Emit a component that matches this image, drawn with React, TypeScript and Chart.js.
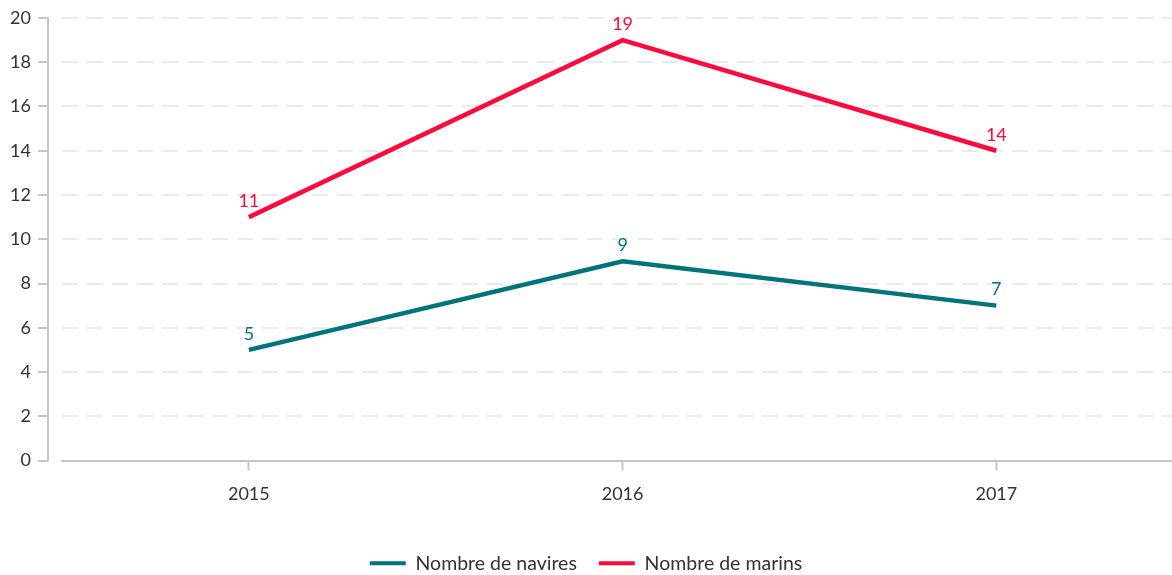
import React, { useEffect, useRef } from "react";
import { Chart, registerables } from "chart.js";

Chart.register(...registerables);

const years = [2015, 2016, 2017];
const navires = [5, 9, 7];
const marins = [11, 19, 14];
const seriesLabels = ["Nombre de navires", "Nombre de marins"];
const seriesColors = ["#00737c", "#ff0a3c"];

const FONT = "Lato, 'Open Sans', sans-serif";
const AXIS = "#c6c6c6";

const yAxisPlugin = {
  id: "yAxisLine",
  afterDraw(chart: any) {
    const { ctx, chartArea, scales } = chart;
    const ys = scales.y;
    const x = chartArea.left - 14;
    ctx.save();
    ctx.strokeStyle = AXIS;
    ctx.lineWidth = 2;
    ctx.beginPath();
    ctx.moveTo(x, ys.getPixelForValue(ys.max) - 1);
    ctx.lineTo(x, ys.getPixelForValue(ys.min) + 1);
    ctx.stroke();
    ys.ticks.forEach((t: any) => {
      const y = Math.round(ys.getPixelForValue(t.value));
      ctx.beginPath();
      ctx.moveTo(x - 10, y);
      ctx.lineTo(x, y);
      ctx.stroke();
    });
    ctx.restore();
  },
};

const labelPlugin = {
  id: "pointLabels",
  afterDatasetsDraw(chart: any) {
    const { ctx } = chart;
    ctx.save();
    ctx.font = `18px ${FONT}`;
    ctx.textAlign = "center";
    ctx.textBaseline = "middle";
    chart.data.datasets.forEach((ds: any, i: number) => {
      const meta = chart.getDatasetMeta(i);
      ctx.fillStyle = ds.borderColor;
      meta.data.forEach((pt: any, j: number) => {
        ctx.fillText(String(ds.data[j].y), pt.x, pt.y - 16);
      });
    });
    ctx.restore();
  },
};

export default function App() {
  const ref = useRef<HTMLCanvasElement | null>(null);
  useEffect(() => {
    document.body.style.margin = "0";
    const chart = new Chart(ref.current as HTMLCanvasElement, {
      type: "line",
      data: {
        datasets: [
          {
            label: seriesLabels[0],
            data: years.map((x, i) => ({ x, y: navires[i] })),
            borderColor: seriesColors[0],
            backgroundColor: seriesColors[0],
            borderWidth: 4.5,
            pointRadius: 0,
            tension: 0,
          },
          {
            label: seriesLabels[1],
            data: years.map((x, i) => ({ x, y: marins[i] })),
            borderColor: seriesColors[1],
            backgroundColor: seriesColors[1],
            borderWidth: 4.5,
            pointRadius: 0,
            tension: 0,
          },
        ],
      },
      options: {
        animation: false,
        responsive: true,
        maintainAspectRatio: false,
        layout: { padding: { top: 18, right: 0, left: 0, bottom: -8 } },
        plugins: {
          tooltip: { enabled: false },
          legend: {
            position: "bottom",
            labels: {
              font: { family: FONT, size: 19.5 },
              color: "#333",
              boxWidth: 36,
              boxHeight: 4,
              padding: 22,
              generateLabels: (c: any) =>
                Chart.defaults.plugins.legend.labels
                  .generateLabels(c)
                  .map((l: any) => ({ ...l, lineWidth: 0, strokeStyle: "rgba(0,0,0,0)" })),
            },
          },
        },
        scales: {
          x: {
            type: "linear",
            min: 2014.5,
            max: 2017.47,
            afterBuildTicks: (s: any) => {
              s.ticks = years.map((v) => ({ value: v }));
            },
            afterFit: (s: any) => {
              s.height = 71;
            },
            grid: {
              drawOnChartArea: false,
              drawTicks: true,
              tickLength: 10,
              tickColor: AXIS,
              tickWidth: 2,
            },
            border: { display: true, color: AXIS, width: 2 },
            ticks: {
              font: { family: FONT, size: 18 },
              color: "#333",
              padding: 13,
              callback: (v: any) => String(v),
            },
          },
          y: {
            min: 0,
            max: 20,
            afterFit: (s: any) => {
              s.width = 62;
            },
            ticks: {
              stepSize: 1,
              font: { family: FONT, size: 18 },
              color: "#333",
              padding: 0,
              callback: (v: any) => (v % 2 === 0 ? String(v) : ""),
            },
            grid: {
              drawTicks: true,
              tickLength: 31,
              tickColor: "rgba(0,0,0,0)",
              color: (c: any) => (c.tick && c.tick.value === 0 ? "rgba(0,0,0,0)" : "#ebebeb"),
              lineWidth: 2,
            },
            border: { display: false, dash: [16, 9] },
          },
        },
      },
      plugins: [yAxisPlugin, labelPlugin],
    });
    return () => chart.destroy();
  }, []);
  return (
    <div style={{ position: "fixed", left: 0, top: 0, width: 1172, height: 575 }}>
      <canvas ref={ref} />
    </div>
  );
}
